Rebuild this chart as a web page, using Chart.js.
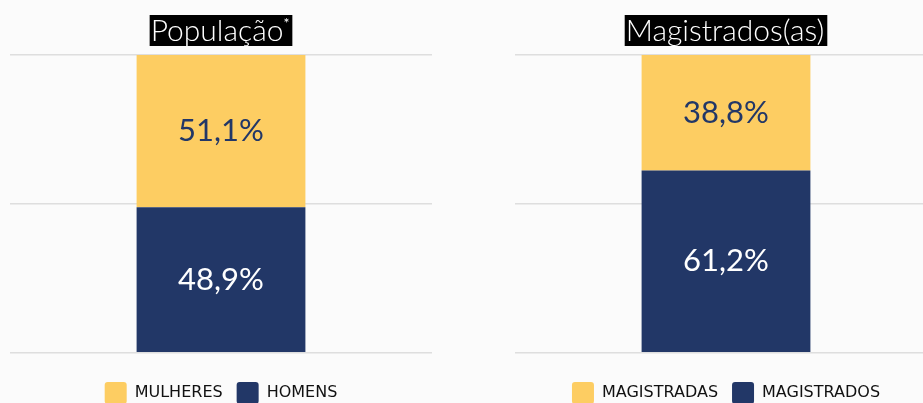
<!DOCTYPE html>
<html>
<head>
<meta charset="utf-8">
<script src="https://cdn.jsdelivr.net/npm/chart.js@4.4.0/dist/chart.umd.min.js"></script>
<style>
  html, body { margin: 0; padding: 0; background: #fbfbfb; overflow: hidden; }
  body { width: 923px; height: 403px; position: relative; }
  .box { position: absolute; top: 0; width: 442px; height: 414px; }
</style>
</head>
<body>
<div class="box" style="left:0"><canvas id="popChart"></canvas></div>
<div class="box" style="left:505px"><canvas id="magChart"></canvas></div>
<script>
const popTitle = 'População*';
const popLabels = ['MULHERES', 'HOMENS'];
const popValues = [51.1, 48.9];

const magTitle = 'Magistrados(as)';
const magLabels = ['MAGISTRADAS', 'MAGISTRADOS'];
const magValues = [38.8, 61.2];

const colors = ['#fdcd62', '#223767'];
const labelColors = ['#223767', '#ffffff'];

// title in a black box above the bars
const titleBox = {
  id: 'titleBox',
  afterDraw(chart, args, opts) {
    const ctx = chart.ctx;
    const area = chart.chartArea;
    const cx = (area.left + area.right) / 2;
    ctx.save();
    ctx.font = '300 30px Lato';
    let text = opts.text, star = '';
    if (text.endsWith('*')) { star = '*'; text = text.slice(0, -1); }
    const w = ctx.measureText(text).width;
    ctx.font = '14px Lato';
    const sw = star ? ctx.measureText(star).width : 0;
    const total = w + sw + 4;
    ctx.fillStyle = '#000';
    ctx.fillRect(cx - total / 2, 15, total, 31);
    ctx.fillStyle = '#fff';
    ctx.textBaseline = 'middle';
    ctx.textAlign = 'left';
    ctx.font = '300 30px Lato';
    ctx.fillText(text, cx - total / 2 + 1, 31);
    if (star) {
      ctx.font = '14px Lato';
      ctx.fillText(star, cx - total / 2 + 1 + w, 23);
    }
    ctx.restore();
  }
};

// percentage in the middle of each segment
const barLabels = {
  id: 'barLabels',
  afterDatasetsDraw(chart) {
    const ctx = chart.ctx;
    ctx.save();
    ctx.font = '31px Lato';
    ctx.textAlign = 'center';
    ctx.textBaseline = 'middle';
    chart.data.datasets.forEach((ds, i) => {
      const el = chart.getDatasetMeta(i).data[0];
      const mid = (el.y + el.base) / 2;
      ctx.fillStyle = ds.labelColor;
      ctx.fillText(ds.data[0].toFixed(1).replace('.', ',') + '%', el.x, mid);
    });
    ctx.restore();
  }
};

function makeChart(id, title, labels, values) {
  // datasets listed bottom first, legend reversed so the top segment is named first
  const datasets = [1, 0].map(i => ({
    label: labels[i],
    data: [values[i]],
    backgroundColor: colors[i],
    labelColor: labelColors[i],
    borderWidth: 0,
    categoryPercentage: 1,
    barPercentage: 0.4
  }));
  new Chart(document.getElementById(id), {
    type: 'bar',
    data: { labels: [''], datasets: datasets },
    plugins: [titleBox, barLabels],
    options: {
      responsive: true,
      maintainAspectRatio: false,
      animation: false,
      layout: { padding: { top: 55, left: 10, right: 10, bottom: 0 } },
      scales: {
        x: { stacked: true, display: false },
        y: {
          stacked: true, min: 0, max: 100,
          ticks: { display: false, stepSize: 50 },
          border: { display: false },
          grid: { color: '#dedede', lineWidth: 1.5, drawTicks: false }
        }
      },
      plugins: {
        titleBox: { text: title },
        tooltip: { enabled: false },
        legend: {
          position: 'bottom',
          reverse: true,
          title: { display: true, text: '', font: { size: 1 }, padding: { top: 14, bottom: 0 } },
          labels: {
            boxWidth: 22, boxHeight: 22, padding: 14,
            useBorderRadius: true, borderRadius: 3,
            color: '#111',
            font: { family: 'DejaVu Sans', size: 16 }
          }
        }
      }
    }
  });
}

makeChart('popChart', popTitle, popLabels, popValues);
makeChart('magChart', magTitle, magLabels, magValues);
</script>
</body>
</html>
